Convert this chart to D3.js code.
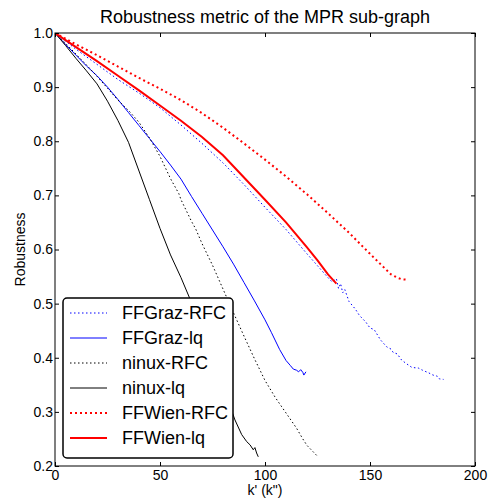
<!DOCTYPE html>
<html>
<head>
<meta charset="utf-8">
<script src="https://cdn.jsdelivr.net/npm/d3@7"></script>
<style>
  body { margin: 0; background: #fff; }
  text { font-family: "Liberation Sans", Arial, sans-serif; }
</style>
</head>
<body>
<div id="chart"></div>
<script>
// Data: k' values and robustness per series.
var graz_rfc_k = [0, 5, 10, 20, 30, 40, 50, 60, 70, 80, 90, 100, 110, 120, 125, 130, 132, 134, 135, 136, 137, 138, 140, 143, 145, 148, 150, 152, 155, 158, 160, 161, 163, 165, 167, 170, 173, 175, 178, 180, 182, 183, 185];
var graz_rfc_v = [1.0, 0.985, 0.97, 0.942, 0.914, 0.889, 0.862, 0.83, 0.796, 0.76, 0.72, 0.678, 0.637, 0.592, 0.57, 0.548, 0.54, 0.546, 0.528, 0.537, 0.52, 0.526, 0.504, 0.49, 0.478, 0.466, 0.455, 0.452, 0.433, 0.42, 0.416, 0.41, 0.407, 0.396, 0.39, 0.382, 0.381, 0.377, 0.372, 0.368, 0.366, 0.361, 0.36];

var graz_lq_k = [0, 5, 10, 15, 20, 25, 30, 35, 40, 45, 50, 55, 60, 65, 70, 75, 80, 85, 90, 95, 100, 103, 105, 107, 110, 112, 113.5, 115, 116, 117, 118, 118.5, 119.5];
var graz_lq_v = [1.0, 0.979, 0.959, 0.939, 0.921, 0.9, 0.877, 0.853, 0.829, 0.805, 0.781, 0.756, 0.73, 0.698, 0.667, 0.636, 0.605, 0.573, 0.539, 0.505, 0.47, 0.447, 0.431, 0.415, 0.395, 0.386, 0.379, 0.377, 0.374, 0.378, 0.373, 0.368, 0.374];

var ninux_rfc_k = [0, 5, 10, 15, 20, 25, 30, 35, 40, 45, 50, 55, 59, 60, 65, 67, 70, 75, 80, 85, 90, 95, 100, 105, 110, 115, 118, 120, 123, 125];
var ninux_rfc_v = [1.0, 0.981, 0.961, 0.941, 0.92, 0.898, 0.876, 0.857, 0.835, 0.806, 0.772, 0.731, 0.703, 0.692, 0.652, 0.638, 0.611, 0.571, 0.527, 0.483, 0.44, 0.398, 0.358, 0.326, 0.298, 0.27, 0.25, 0.238, 0.226, 0.218];

var ninux_lq_k = [0, 5, 10, 15, 20, 25, 30, 35, 40, 45, 50, 55, 60, 65, 70, 75, 80, 85.7, 88.9, 91.3, 92.9, 94.4, 95.2, 96, 96.8];
var ninux_lq_v = [1.0, 0.977, 0.953, 0.93, 0.906, 0.874, 0.838, 0.798, 0.745, 0.692, 0.639, 0.59, 0.548, 0.502, 0.452, 0.4, 0.347, 0.285, 0.258, 0.245, 0.239, 0.23, 0.234, 0.224, 0.217];

var wien_rfc_k = [0, 10, 20, 30, 40, 50, 60, 70, 80, 90, 100, 110, 120, 130, 140, 150, 155, 160, 163, 165, 168];
var wien_rfc_v = [1.0, 0.979, 0.959, 0.938, 0.917, 0.897, 0.876, 0.852, 0.825, 0.796, 0.766, 0.735, 0.702, 0.667, 0.631, 0.592, 0.573, 0.554, 0.548, 0.545, 0.544];

var wien_lq_k = [0, 10, 20, 30, 40, 50, 60, 70, 80, 90, 100, 110, 120, 125, 130, 134];
var wien_lq_v = [1.0, 0.974, 0.948, 0.921, 0.894, 0.866, 0.838, 0.808, 0.774, 0.733, 0.692, 0.65, 0.604, 0.58, 0.554, 0.537];

var seriesNames = ['FFGraz-RFC', 'FFGraz-lq', 'ninux-RFC', 'ninux-lq', 'FFWien-RFC', 'FFWien-lq'];
var xTicks = [0, 50, 100, 150, 200];
var yTicks = [0.2, 0.3, 0.4, 0.5, 0.6, 0.7, 0.8, 0.9, 1.0];

// Chart settings.
var width = 489,
  height = 499,
  margin = {top: 33, right: 14, bottom: 33, left: 55};
var plotW = width - margin.left - margin.right,
  plotH = height - margin.top - margin.bottom;

var styles = [
  {color: '#0000ff', w: 1, dash: '1.5,2.5'},
  {color: '#0000ff', w: 1, dash: null},
  {color: '#000000', w: 1, dash: '1.5,2.5'},
  {color: '#000000', w: 1, dash: null},
  {color: '#ff0000', w: 2, dash: '2,3'},
  {color: '#ff0000', w: 2, dash: null}
];

var series = [
  d3.zip(graz_rfc_k, graz_rfc_v),
  d3.zip(graz_lq_k, graz_lq_v),
  d3.zip(ninux_rfc_k, ninux_rfc_v),
  d3.zip(ninux_lq_k, ninux_lq_v),
  d3.zip(wien_rfc_k, wien_rfc_v),
  d3.zip(wien_lq_k, wien_lq_v)
];

var x = d3.scaleLinear().domain([0, 200]).range([0, plotW]);
var y = d3.scaleLinear().domain([0.2, 1.0]).range([plotH, 0]);

var svg = d3.select('#chart').append('svg')
  .attr('width', width)
  .attr('height', height);

svg.append('rect').attr('width', width).attr('height', height).attr('fill', 'white');

var g = svg.append('g').attr('transform', 'translate(' + margin.left + ',' + margin.top + ')');

g.append('clipPath').attr('id', 'clip')
  .append('rect').attr('width', plotW).attr('height', plotH);

var line = d3.line()
  .x(function (d) { return x(d[0]); })
  .y(function (d) { return y(d[1]); });

g.append('g').attr('clip-path', 'url(#clip)')
  .selectAll('path')
  .data(series)
  .enter()
  .append('path')
  .attr('d', line)
  .attr('fill', 'none')
  .attr('stroke', function (d, i) { return styles[i].color; })
  .attr('stroke-width', function (d, i) { return styles[i].w; })
  .attr('stroke-dasharray', function (d, i) { return styles[i].dash; });

// Axes with inward ticks on all four sides.
var fmtY = d3.format('.1f');
var xb = g.append('g').attr('transform', 'translate(0,' + plotH + ')')
  .call(d3.axisBottom(x).tickValues(xTicks).tickSize(-4).tickPadding(4));
var xt = g.append('g')
  .call(d3.axisTop(x).tickValues(xTicks).tickSize(-4).tickFormat(''));
var yl = g.append('g')
  .call(d3.axisLeft(y).tickValues(yTicks).tickSize(-4).tickPadding(2).tickFormat(fmtY));
var yr = g.append('g').attr('transform', 'translate(' + plotW + ',0)')
  .call(d3.axisRight(y).tickValues(yTicks).tickSize(-4).tickFormat(''));

[xb, xt, yl, yr].forEach(function (a) {
  a.select('.domain').remove();
  a.selectAll('line').attr('stroke', '#000');
  a.selectAll('text').attr('fill', '#000').style('font-size', '14px')
    .style('font-family', '"Liberation Sans", Arial, sans-serif');
});

g.append('rect')
  .attr('width', plotW).attr('height', plotH)
  .attr('fill', 'none').attr('stroke', '#000').attr('stroke-width', 1);

// Titles.
svg.append('text')
  .attr('x', margin.left + plotW / 2).attr('y', 23)
  .attr('text-anchor', 'middle').style('font-size', '18px')
  .text('Robustness metric of the MPR sub-graph');

svg.append('text')
  .attr('x', margin.left + plotW / 2).attr('y', 495)
  .attr('text-anchor', 'middle').style('font-size', '14px')
  .text('k\' (k")');

svg.append('text')
  .attr('transform', 'translate(25,' + (margin.top + plotH / 2) + ') rotate(-90)')
  .attr('text-anchor', 'middle').style('font-size', '14px')
  .text('Robustness');

// Legend.
var legend = svg.append('g').attr('transform', 'translate(63,298)');
legend.append('rect')
  .attr('width', 170).attr('height', 160).attr('rx', 4)
  .attr('fill', 'white').attr('stroke', '#000').attr('stroke-width', 1.5);

var item = legend.selectAll('g.item')
  .data(seriesNames)
  .enter()
  .append('g')
  .attr('class', 'item')
  .attr('transform', function (d, i) { return 'translate(0,' + (15 + i * 25) + ')'; });

item.append('line')
  .attr('x1', 7).attr('x2', 44)
  .attr('stroke', function (d, i) { return styles[i].color; })
  .attr('stroke-width', function (d, i) { return styles[i].w; })
  .attr('stroke-dasharray', function (d, i) { return styles[i].dash; });

item.append('text')
  .attr('x', 59).attr('dy', '0.35em')
  .style('font-size', '18px')
  .text(function (d) { return d; });
</script>
</body>
</html>
